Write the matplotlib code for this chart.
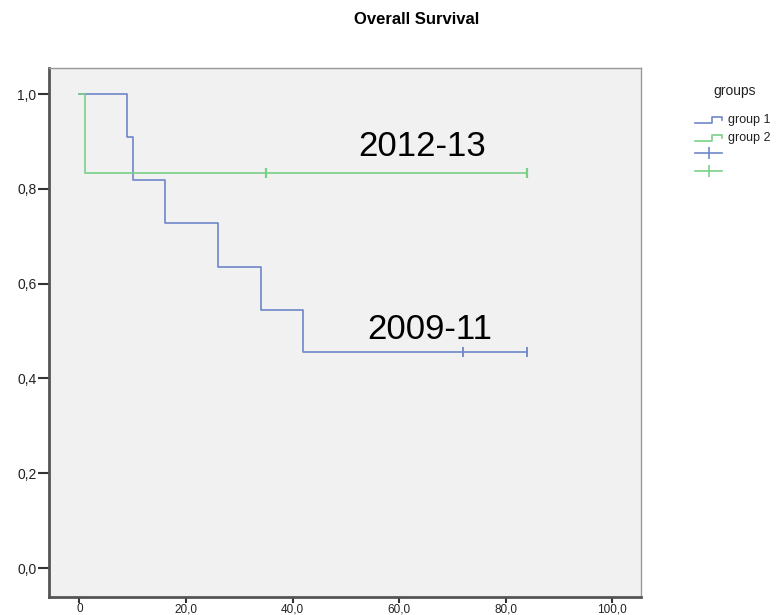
import matplotlib
matplotlib.use("Agg")
import matplotlib.pyplot as plt
from matplotlib.lines import Line2D

plt.rcParams['font.family'] = ['Liberation Sans', 'DejaVu Sans']

# Data (Kaplan-Meier steps)
g1_time = [0, 9, 10, 16, 26, 34, 42, 84]
g1_surv = [1.0, 0.909, 0.818, 0.727, 0.636, 0.545, 0.455, 0.455]
g1_cens_t = [72, 84]
g1_cens_s = [0.455, 0.455]
g2_time = [0, 1, 84]
g2_surv = [1.0, 0.833, 0.833]
g2_cens_t = [35, 84]
g2_cens_s = [0.833, 0.833]
x_ticks = [0, 20, 40, 60, 80, 100]
x_labels = ["0", "20,0", "40,0", "60,0", "80,0", "100,0"]
y_ticks = [0.0, 0.2, 0.4, 0.6, 0.8, 1.0]
y_labels = ["0,0", "0,2", "0,4", "0,6", "0,8", "1,0"]
legend_labels = ["group 1", "group 2"]

blue = '#6F86C8'
green = '#7ACF87'

fig = plt.figure(figsize=(7.84, 6.15), dpi=100)
ax = fig.add_axes([49/784, 1-597/615, (641-49)/784, (597-68)/615])
ax.set_facecolor('#F1F1F1')

ax.step(g1_time, g1_surv, where='post', color=blue, lw=1.2)
ax.step(g2_time, g2_surv, where='post', color=green, lw=1.2)
ax.plot(g1_cens_t, g1_cens_s, ls='none', marker='|', ms=7, mew=1.3, color=blue)
ax.plot(g2_cens_t, g2_cens_s, ls='none', marker='|', ms=7, mew=1.6, color=green)

ax.set_xlim(-5.7, 105.4)
ax.set_ylim(-0.061, 1.055)
ax.set_xticks(x_ticks)
ax.set_xticklabels(x_labels, fontsize=8.5, color='#222222')
ax.set_yticks(y_ticks)
ax.set_yticklabels(y_labels, fontsize=10, color='#222222')
ax.tick_params(axis='y', length=8, width=1.5, color='#333333', pad=1)
ax.tick_params(axis='x', length=4, width=1.5, color='#333333', pad=0.5)

for s in ['left', 'bottom']:
    ax.spines[s].set_linewidth(2)
    ax.spines[s].set_color('#555555')
for s in ['top', 'right']:
    ax.spines[s].set_linewidth(1)
    ax.spines[s].set_color('#999999')

ax.text(64.3, 0.855, "2012-13", fontsize=25, ha='center', va='bottom', color='black')
ax.text(65.8, 0.468, "2009-11", fontsize=25, ha='center', va='bottom', color='black')

fig.text(417/784, 1-19/615, "Overall Survival", fontsize=12, fontweight='bold',
         ha='center', va='center')

# Legend
fig.text(735/784, 1-91/615, "groups", fontsize=10, ha='center', va='center', color='#222222')
lcolors = [blue, green]
ys = [120, 138]
for lab, c, yy in zip(legend_labels, lcolors, ys):
    xs = [695/784, 712/784, 712/784, 722/784, 722/784]
    yv = [1-(yy+3)/615, 1-(yy+3)/615, 1-(yy-3)/615, 1-(yy-3)/615, 1-(yy)/615]
    fig.add_artist(Line2D(xs, yv, color=c, lw=1.2, transform=fig.transFigure))
    fig.text(728/784, 1-yy/615, lab, fontsize=9, ha='left', va='center', color='#222222')
for c, yy in zip(lcolors, [153, 171]):
    fig.add_artist(Line2D([695/784, 722/784], [1-yy/615, 1-yy/615], color=c, lw=1.2,
                          transform=fig.transFigure))
    fig.add_artist(Line2D([708.5/784], [1-yy/615], color=c, marker='|', ms=8, mew=1.2,
                          transform=fig.transFigure))

fig.savefig("out.png", dpi=100)
